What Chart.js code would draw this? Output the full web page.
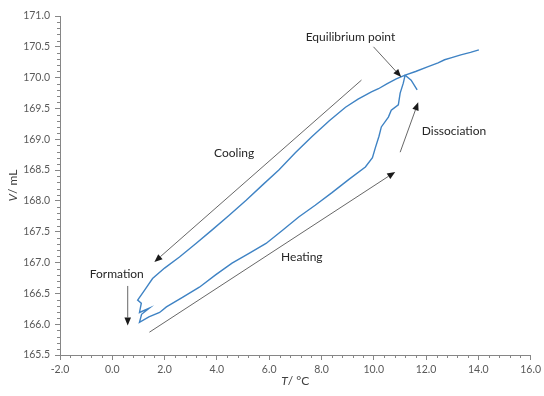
<!DOCTYPE html>
<html>
<head>
<meta charset="utf-8">
<script src="https://cdn.jsdelivr.net/npm/chart.js@4/dist/chart.umd.min.js"></script>
<style>
  html, body { margin: 0; padding: 0; background: #fff; }
  #wrap { width: 544px; height: 396px; }
</style>
</head>
<body>
<div id="wrap"><canvas id="loopChart" width="544" height="396"></canvas></div>
<script>
// temperature (°C) and volume (mL), one continuous trace: cooling, formation, heating, dissociation
const temps = [
  14.02, 13.70, 13.33, 12.95, 12.71, 12.46, 12.08, 11.60, 11.20, 10.86,
  10.50, 10.18, 9.91, 9.40, 8.92, 8.30, 7.63, 7.00, 6.37, 5.75,
  5.12, 4.45, 3.82, 3.20, 2.57, 2.00, 1.54, 1.25, 0.97, 1.11,
  1.04, 1.42, 1.12, 1.04, 1.40, 1.81, 2.07, 2.70, 3.33, 3.95,
  4.58, 5.23, 5.88, 6.50, 7.13, 7.76, 8.39, 9.05, 9.68, 9.95,
  10.06, 10.20, 10.29, 10.56, 10.67, 10.94, 11.01, 11.13, 11.20, 11.43,
  11.66
];
const volumes = [
  170.45, 170.41, 170.37, 170.32, 170.29, 170.24, 170.18, 170.10, 170.04, 169.98,
  169.90, 169.82, 169.77, 169.65, 169.52, 169.30, 169.04, 168.78, 168.50, 168.26,
  168.01, 167.76, 167.53, 167.31, 167.09, 166.91, 166.74, 166.56, 166.39, 166.34,
  166.19, 166.26, 166.16, 166.03, 166.12, 166.19, 166.28, 166.44, 166.60, 166.80,
  166.99, 167.15, 167.31, 167.52, 167.74, 167.93, 168.13, 168.35, 168.55, 168.70,
  168.86, 169.05, 169.20, 169.36, 169.47, 169.56, 169.75, 169.91, 170.04, 169.96,
  169.80
];

// annotation labels and arrows, in data units
const labelTexts = ["Equilibrium point", "Cooling", "Heating", "Formation", "Dissociation"];
const labelX = [9.11, 4.66, 7.25, 0.17, 13.07];
const labelY = [170.66, 168.78, 167.09, 166.81, 169.13];
const arrowFromX = [9.99, 9.53, 1.42, 0.59, 11.01];
const arrowFromY = [170.50, 169.96, 165.87, 166.62, 168.79];
const arrowToX = [11.05, 1.61, 10.82, 0.59, 11.70];
const arrowToY = [170.01, 167.01, 168.47, 165.98, 169.60];

const FONT = "Lato, 'Open Sans', sans-serif";
const AXIS_COLOR = "#868686";

const extras = {
  id: "extras",
  afterDraw(chart) {
    const ctx = chart.ctx;
    const xs = chart.scales.x;
    const ys = chart.scales.y;
    const area = chart.chartArea;
    ctx.save();

    // minor ticks
    ctx.strokeStyle = AXIS_COLOR;
    ctx.lineWidth = 1;
    ctx.beginPath();
    for (let i = 0; i <= 45; i++) {
      if (i % 5 === 0) continue;
      const px = Math.round(xs.getPixelForValue(-2 + i * 0.4)) + 0.5;
      ctx.moveTo(px, area.bottom);
      ctx.lineTo(px, area.bottom + 3);
    }
    for (let i = 0; i <= 55; i++) {
      if (i % 5 === 0) continue;
      const py = Math.round(ys.getPixelForValue(165.5 + i * 0.1)) + 0.5;
      ctx.moveTo(area.left, py);
      ctx.lineTo(area.left - 3, py);
    }
    ctx.stroke();

    // arrows
    ctx.strokeStyle = "#404040";
    ctx.fillStyle = "#1a1a1a";
    ctx.lineWidth = 0.8;
    for (let i = 0; i < arrowFromX.length; i++) {
      const x1 = xs.getPixelForValue(arrowFromX[i]);
      const y1 = ys.getPixelForValue(arrowFromY[i]);
      const x2 = xs.getPixelForValue(arrowToX[i]);
      const y2 = ys.getPixelForValue(arrowToY[i]);
      const ang = Math.atan2(y2 - y1, x2 - x1);
      const len = 8, half = 3.3;
      const bx = x2 - len * Math.cos(ang);
      const by = y2 - len * Math.sin(ang);
      ctx.beginPath();
      ctx.moveTo(x1, y1);
      ctx.lineTo(bx, by);
      ctx.stroke();
      ctx.beginPath();
      ctx.moveTo(x2, y2);
      ctx.lineTo(bx + half * Math.sin(ang), by - half * Math.cos(ang));
      ctx.lineTo(bx - half * Math.sin(ang), by + half * Math.cos(ang));
      ctx.closePath();
      ctx.fill();
    }

    // annotation labels
    ctx.fillStyle = "#262626";
    ctx.font = "12px " + FONT;
    ctx.textAlign = "center";
    ctx.textBaseline = "middle";
    labelTexts.forEach((t, i) => {
      ctx.fillText(t, xs.getPixelForValue(labelX[i]), ys.getPixelForValue(labelY[i]));
    });

    // axis titles with italic symbol
    ctx.fillStyle = "#404040";
    ctx.textAlign = "left";
    const drawTitle = (sym, rest, cx, cy, rot) => {
      ctx.save();
      ctx.translate(cx, cy);
      ctx.rotate(rot);
      ctx.font = "italic 12px " + FONT;
      const w1 = ctx.measureText(sym).width;
      ctx.font = "12px " + FONT;
      const w2 = ctx.measureText(rest).width;
      const start = -(w1 + w2) / 2;
      ctx.font = "italic 12px " + FONT;
      ctx.fillText(sym, start, 0);
      ctx.font = "12px " + FONT;
      ctx.fillText(rest, start + w1, 0);
      ctx.restore();
    };
    drawTitle("T", "/ \u00B0C", (area.left + area.right) / 2, 381, 0);
    drawTitle("V", "/ mL", 13, (area.top + area.bottom) / 2, -Math.PI / 2);

    ctx.restore();
  }
};

new Chart(document.getElementById("loopChart"), {
  type: "scatter",
  data: {
    datasets: [
      {
        data: temps.map((t, i) => ({ x: t, y: volumes[i] })),
        showLine: true,
        borderColor: "#3f83c4",
        borderWidth: 1.4,
        pointRadius: 0,
        tension: 0,
        fill: false,
      },
    ],
  },
  options: {
    responsive: false,
    animation: false,
    layout: { padding: { left: 0, right: 11, top: 16, bottom: 0 } },
    plugins: {
      legend: { display: false },
      tooltip: { enabled: false },
    },
    scales: {
      x: {
        type: "linear",
        min: -2,
        max: 16,
        afterFit: (s) => { s.height = 41; },
        ticks: {
          stepSize: 2,
          callback: (v) => v.toFixed(1),
          color: "#595959",
          font: { family: FONT, size: 10.5 },
          padding: 3,
          maxRotation: 0,
        },
        grid: {
          drawOnChartArea: false,
          drawTicks: true,
          tickLength: 5,
          tickColor: AXIS_COLOR,
        },
        border: { color: AXIS_COLOR },
      },
      y: {
        min: 165.5,
        max: 171,
        afterFit: (s) => { s.width = 60; },
        ticks: {
          stepSize: 0.5,
          callback: (v) => v.toFixed(1),
          color: "#595959",
          font: { family: FONT, size: 10.5 },
          padding: 5,
        },
        grid: {
          drawOnChartArea: false,
          drawTicks: true,
          tickLength: 5,
          tickColor: AXIS_COLOR,
        },
        border: { color: AXIS_COLOR },
      },
    },
  },
  plugins: [extras],
});
</script>
</body>
</html>
